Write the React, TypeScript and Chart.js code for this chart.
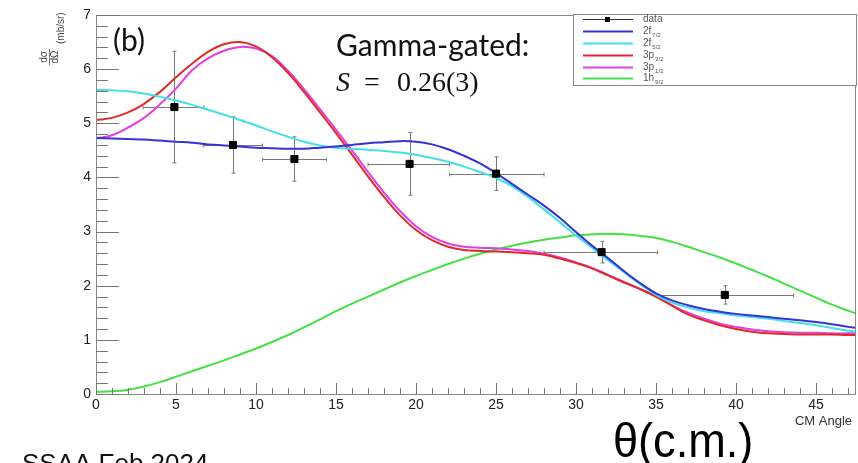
import React, { useEffect, useRef } from "react";
import { Chart, registerables } from "chart.js";
Chart.register(...registerables);

// ---- data ----
const curveX = [0,1,2,3,4,5,6,7,8,9,10,11,12,13,14,15,16,17,18,19,20,21,22,23,24,25,26,27,28,29,30,31,32,33,34,35,36,37,38,39,40,41,42,43,44,45,46,47,47.5];
const fit2f72 = [4.73,4.72,4.71,4.7,4.68,4.66,4.64,4.61,4.59,4.57,4.55,4.54,4.53,4.53,4.55,4.57,4.6,4.63,4.65,4.67,4.66,4.61,4.52,4.4,4.26,4.08,3.88,3.68,3.48,3.25,2.99,2.74,2.51,2.27,2.05,1.86,1.73,1.64,1.57,1.52,1.48,1.45,1.42,1.39,1.36,1.33,1.29,1.24,1.22];
const fit2f52 = [5.62,5.61,5.59,5.55,5.49,5.42,5.34,5.25,5.16,5.06,4.96,4.85,4.75,4.66,4.59,4.55,4.53,4.51,4.49,4.46,4.42,4.36,4.29,4.2,4.1,3.99,3.84,3.64,3.41,3.17,2.93,2.7,2.47,2.25,2.03,1.83,1.69,1.6,1.53,1.49,1.45,1.42,1.39,1.35,1.31,1.27,1.22,1.17,1.15];
const fit3p32 = [5.06,5.1,5.2,5.36,5.58,5.85,6.1,6.32,6.46,6.5,6.42,6.22,5.93,5.58,5.2,4.82,4.42,4.02,3.64,3.3,3.03,2.84,2.72,2.66,2.64,2.63,2.62,2.6,2.57,2.5,2.42,2.32,2.19,2.06,1.94,1.8,1.63,1.47,1.36,1.27,1.2,1.15,1.12,1.11,1.1,1.1,1.1,1.09,1.09];
const fit3p12 = [4.72,4.78,4.92,5.1,5.35,5.64,5.98,6.2,6.34,6.41,6.38,6.24,5.97,5.63,5.26,4.88,4.5,4.1,3.72,3.38,3.1,2.9,2.78,2.72,2.7,2.69,2.67,2.64,2.59,2.52,2.43,2.33,2.2,2.07,1.94,1.8,1.64,1.5,1.39,1.3,1.24,1.19,1.16,1.14,1.13,1.13,1.12,1.12,1.12];
const fit1h92 = [0.04,0.05,0.08,0.14,0.22,0.32,0.42,0.52,0.62,0.73,0.84,0.96,1.09,1.23,1.38,1.53,1.67,1.8,1.93,2.06,2.18,2.29,2.4,2.5,2.59,2.67,2.74,2.8,2.85,2.89,2.93,2.95,2.96,2.95,2.92,2.88,2.81,2.72,2.62,2.52,2.41,2.29,2.17,2.04,1.91,1.78,1.65,1.54,1.49];

const dataX = [4.9, 8.56, 12.4, 19.6, 25.0, 31.6, 39.3];
const dataY = [5.3, 4.6, 4.34, 4.25, 4.07, 2.62, 1.83];
const dataXLow = [2.94, 6.7, 10.4, 17.0, 22.1, 28.0, 35.1];
const dataXHigh = [6.75, 10.4, 14.4, 22.1, 28.0, 35.1, 43.6];
const dataYErr = [1.03, 0.52, 0.41, 0.58, 0.31, 0.2, 0.17];

const xTickValues = [0, 5, 10, 15, 20, 25, 30, 35, 40, 45];
const yTickValues = [0, 1, 2, 3, 4, 5, 6, 7];

const legendItems = [
  { main: "data", sub: "", color: "#000" },
  { main: "2f", sub: "7/2", color: "#3333d6" },
  { main: "2f", sub: "5/2", color: "#45e0e6" },
  { main: "3p", sub: "3/2", color: "#e02a2a" },
  { main: "3p", sub: "1/2", color: "#e040e0" },
  { main: "1h", sub: "9/2", color: "#44e044" },
];

const curveSeries = [fit2f72, fit2f52, fit3p32, fit3p12, fit1h92];

const rootPlugin = {
  id: "rootStyle",
  beforeDatasetsDraw(chart: any) {
    const ctx = chart.ctx;
    const xs = chart.scales.x;
    const ys = chart.scales.y;
    ctx.save();
    ctx.strokeStyle = "#777";
    ctx.lineWidth = 1;
    for (let i = 0; i < dataX.length; i++) {
      const px = Math.round(xs.getPixelForValue(dataX[i])) + 0.5;
      const py = Math.round(ys.getPixelForValue(dataY[i])) + 0.5;
      const xl = xs.getPixelForValue(dataXLow[i]);
      const xh = xs.getPixelForValue(dataXHigh[i]);
      const yt = ys.getPixelForValue(dataY[i] + dataYErr[i]);
      const yb = ys.getPixelForValue(dataY[i] - dataYErr[i]);
      ctx.beginPath();
      ctx.moveTo(xl, py); ctx.lineTo(xh, py);
      ctx.moveTo(px, yt); ctx.lineTo(px, yb);
      ctx.moveTo(xl, py - 2); ctx.lineTo(xl, py + 2);
      ctx.moveTo(xh, py - 2); ctx.lineTo(xh, py + 2);
      ctx.moveTo(px - 2, yt); ctx.lineTo(px + 2, yt);
      ctx.moveTo(px - 2, yb); ctx.lineTo(px + 2, yb);
      ctx.stroke();
    }
    ctx.restore();
  },
  afterDraw(chart: any) {
    const ctx = chart.ctx;
    const a = chart.chartArea;
    const xs = chart.scales.x;
    const ys = chart.scales.y;
    ctx.save();
    // frame
    ctx.strokeStyle = "#888";
    ctx.lineWidth = 1;
    ctx.strokeRect(Math.round(a.left) + 0.5, Math.round(a.top) + 0.5, Math.round(a.right - a.left) - 1, Math.round(a.bottom - a.top));
    // ticks
    ctx.strokeStyle = "#777";
    ctx.beginPath();
    for (let v = 0; v <= 7.0001; v += 0.2) {
      const major = Math.abs(v - Math.round(v)) < 1e-6;
      const py = Math.round(ys.getPixelForValue(v)) + 0.5;
      ctx.moveTo(a.left, py);
      ctx.lineTo(a.left + (major ? 23 : 12), py);
    }
    for (let v = 0; v <= 47.5; v += 1) {
      const major = v % 5 === 0;
      const px = Math.round(xs.getPixelForValue(v)) + 0.5;
      ctx.moveTo(px, a.bottom);
      ctx.lineTo(px, a.bottom - (major ? 11 : 6));
    }
    ctx.stroke();

    // legend
    const lx = 573, ly = 14, lw = 283, lh = 71;
    ctx.fillStyle = "#fff";
    ctx.fillRect(lx, ly, lw, lh);
    ctx.strokeStyle = "#888";
    ctx.strokeRect(lx + 0.5, ly + 0.5, lw, lh);
    const rows = [19, 31, 43, 55, 67, 78];
    legendItems.forEach((it, i) => {
      const y = rows[i];
      ctx.strokeStyle = i === 0 ? "#333" : it.color;
      ctx.lineWidth = i === 0 ? 1 : 2;
      ctx.beginPath();
      ctx.moveTo(583, y + 0.5);
      ctx.lineTo(633, y + 0.5);
      ctx.stroke();
      if (i === 0) {
        ctx.fillStyle = "#000";
        ctx.fillRect(605, y - 2, 5, 5);
      }
      ctx.fillStyle = "#555";
      ctx.font = "10px 'Liberation Sans', Arial, sans-serif";
      ctx.textBaseline = "alphabetic";
      ctx.textAlign = "left";
      ctx.fillText(it.main, 643, y + 3);
      if (it.sub) {
        const w = ctx.measureText(it.main).width;
        ctx.font = "6px 'Liberation Sans', Arial, sans-serif";
        ctx.fillText(it.sub, 643 + w + 1, y + 6);
      }
    });

    // y axis title (rotated fraction)
    ctx.save();
    ctx.translate(49, 57);
    ctx.rotate(-Math.PI / 2);
    ctx.fillStyle = "#444";
    ctx.textAlign = "center";
    ctx.textBaseline = "middle";
    ctx.font = "10px 'Liberation Sans', Arial, sans-serif";
    ctx.fillText("d\u03c3", 0, -5);
    ctx.fillText("d\u03a9", 0, 6);
    ctx.strokeStyle = "#555";
    ctx.lineWidth = 0.8;
    ctx.beginPath();
    ctx.moveTo(-8, 0.5);
    ctx.lineTo(8, 0.5);
    ctx.stroke();
    ctx.textAlign = "left";
    ctx.font = "10px 'Liberation Sans', Arial, sans-serif";
    ctx.fillText("(mb/sr)", 13, 12);
    ctx.restore();

    // annotations
    ctx.fillStyle = "#111";
    ctx.textAlign = "left";
    ctx.textBaseline = "alphabetic";
    ctx.font = "30px Lato, 'Open Sans', sans-serif";
    ctx.fillText("(b)", 113, 51);
    ctx.fillText("Gamma-gated:", 336, 56);
    ctx.font = "italic 28px 'Liberation Serif', serif";
    ctx.fillText("S", 336, 91);
    ctx.font = "28px 'Liberation Serif', serif";
    ctx.fillText("=", 364, 91);
    ctx.fillText("0.26(3)", 397, 91);

    ctx.fillStyle = "#333";
    ctx.font = "13px 'Liberation Sans', Arial, sans-serif";
    ctx.textAlign = "right";
    ctx.fillText("CM Angle", 852, 425);

    ctx.fillStyle = "#000";
    ctx.textAlign = "left";
    ctx.save();
    ctx.translate(613, 457);
    ctx.scale(0.94, 1);
    ctx.font = "48px 'Liberation Sans', Arial, sans-serif";
    ctx.fillText("\u03b8(c.m.)", 0, 0);
    ctx.restore();

    ctx.fillStyle = "#111";
    ctx.font = "26px 'Liberation Sans', Arial, sans-serif";
    ctx.fillText("SSAA Feb 2024", 22, 472);
    ctx.restore();
  },
};

export default function App() {
  const ref = useRef<HTMLCanvasElement>(null);
  useEffect(() => {
    if (!ref.current) return;
    const names = ["2f7/2", "2f5/2", "3p3/2", "3p1/2", "1h9/2"];
    const curveDatasets = curveSeries.map((ys, i) => ({
      label: names[i],
      data: curveX.map((x, j) => ({ x, y: ys[j] })),
      borderColor: legendItems[i + 1].color,
      borderWidth: 2,
      pointRadius: 0,
      fill: false,
      tension: 0.4,
    }));
    const chart = new Chart(ref.current, {
      type: "line",
      data: {
        datasets: [
          {
            label: "data",
            data: dataX.map((x, i) => ({ x, y: dataY[i] })),
            showLine: false,
            pointStyle: "rect",
            pointRadius: 5,
            pointBackgroundColor: "#000",
            pointBorderColor: "#000",
            borderColor: "#000",
          },
          ...curveDatasets,
        ],
      },
      options: {
        animation: false,
        responsive: false,
        events: [],
        layout: { autoPadding: false, padding: { top: 15, right: 2, left: 0, bottom: 0 } },
        plugins: { legend: { display: false }, tooltip: { enabled: false } },
        scales: {
          x: {
            type: "linear",
            min: 0,
            max: 47.5,
            grid: { display: false, drawTicks: false },
            border: { display: false },
            afterBuildTicks: (s: any) => { s.ticks = xTickValues.map((v) => ({ value: v })); },
            afterFit: (s: any) => { s.height = 69; s.paddingLeft = 0; s.paddingRight = 0; },
            ticks: {
              padding: 3,
              maxRotation: 0,
              autoSkip: false,
              color: "#222",
              font: { family: "'Liberation Sans', Arial, sans-serif", size: 14 },
            },
          },
          y: {
            type: "linear",
            min: 0,
            max: 7,
            grid: { display: false, drawTicks: false },
            border: { display: false },
            afterBuildTicks: (s: any) => { s.ticks = yTickValues.map((v) => ({ value: v })); },
            afterFit: (s: any) => { s.width = 96; },
            ticks: {
              padding: 5,
              color: "#222",
              font: { family: "'Liberation Sans', Arial, sans-serif", size: 14 },
            },
          },
        },
      },
      plugins: [rootPlugin],
    });
    return () => chart.destroy();
  }, []);
  return (
    <div style={{ position: "fixed", left: 0, top: 0, width: 858, height: 463, background: "#fff" }}>
      <canvas ref={ref} width={858} height={463} style={{ display: "block" }} />
    </div>
  );
}
